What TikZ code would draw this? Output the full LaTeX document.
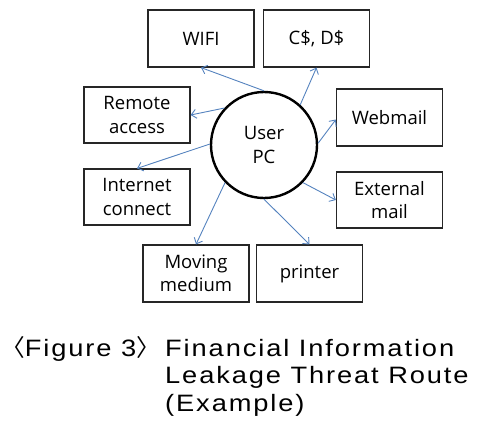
\documentclass[tikz,border=0pt]{standalone}
\usepackage{fontspec}
\setmainfont{Open Sans}
\newfontfamily\capfont[LetterSpace=8,FakeStretch=1.15]{Liberation Sans}
\newfontfamily\cjk{Noto Sans CJK KR}
\usetikzlibrary{arrows.meta}
\definecolor{arr}{RGB}{84,130,190}
\begin{document}
\begin{tikzpicture}[x=1pt,y=-1pt,
  box/.style={draw=black!85,line width=1.2pt,minimum width=106pt,minimum height=57pt,align=center,inner sep=0pt,font=\fontsize{18.5}{23.5}\selectfont},
  con/.style={draw=arr,line width=0.9pt,-{Straight Barb[length=5pt,width=9pt,line width=0.9pt]}},
  captext/.style={anchor=base west,inner sep=0pt,font=\fontsize{23.7}{27.5}\selectfont\capfont}]
\useasboundingbox (0,0) rectangle (487,431);
\node[box] (wifi) at (201,38.5) {WIFI};
\node[box] (cd) at (316.5,38.5) {C\$, D\$};
\node[box,minimum height=56pt] (remote) at (137,115) {Remote\\access};
\node[box] (web) at (389.5,117.5) {Webmail};
\node[box,minimum height=56pt] (inet) at (137,197) {Internet\\connect};
\node[box,minimum height=56pt] (ext) at (389.5,200) {External\\mail};
\node[box] (mov) at (196,273.5) {Moving\\medium};
\node[box] (prn) at (309.5,273.5) {printer};
\node[circle,draw=black,line width=2.4pt,minimum size=106pt,inner sep=0pt,align=center,font=\fontsize{18.5}{24}\selectfont] (pc) at (264,145) {User\\PC};
\draw[con] (pc.north) -- (wifi.south);
\draw[con] (pc.48) -- (cd.south);
\draw[con] (pc.137) -- (remote.east);
\draw[con] (pc.2) -- ([yshift=-2pt]web.west);
\draw[con] (pc.179) -- (inet.north);
\draw[con] (pc.-44) -- (ext.west);
\draw[con] (pc.224) -- (mov.north);
\draw[con] (pc.south) -- (prn.north);
\node[captext] (c0) at (12,356) {\kern-11pt{\cjk 〈}Figure 3{\cjk 〉}};
\node[captext] (c1) at (165,356) {Financial Information};
\node[captext] (c2) at (165,383.5) {Leakage Threat Route};
\node[captext] (c3) at (165,411) {(Example)};
\end{tikzpicture}
\end{document}
